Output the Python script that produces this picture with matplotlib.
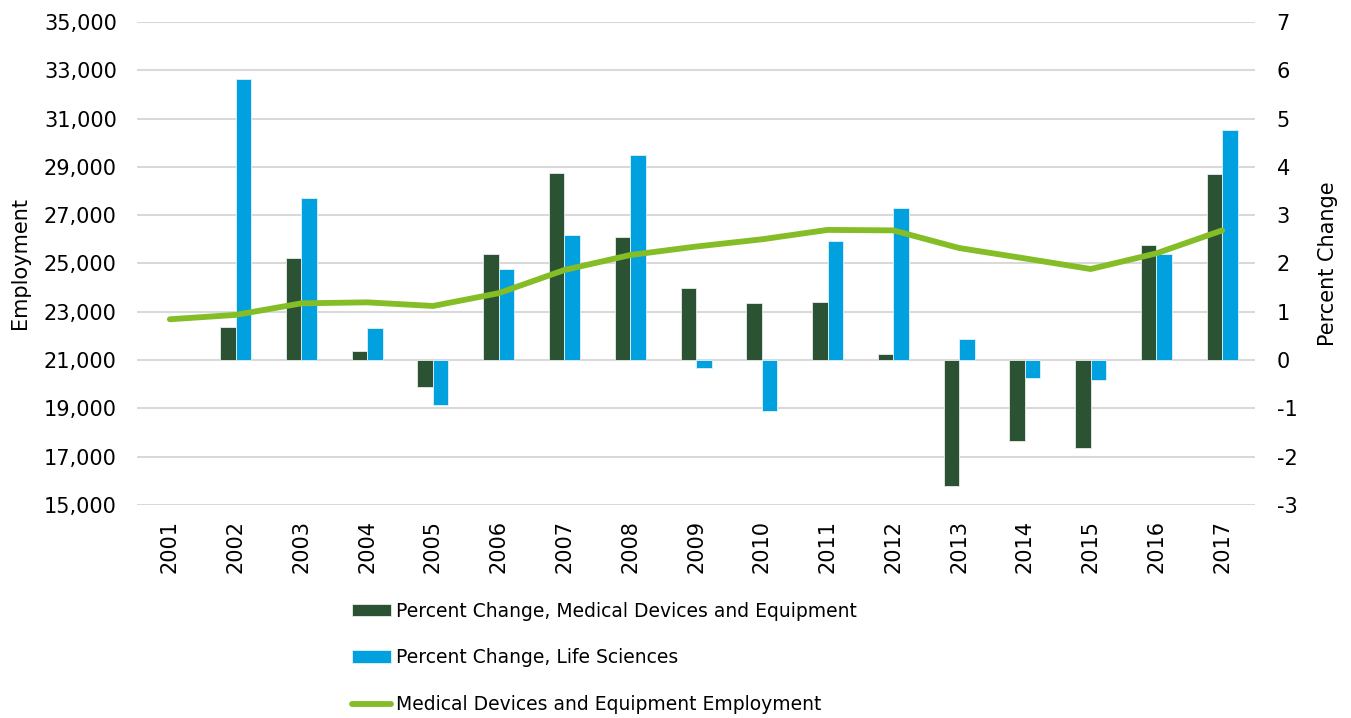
import matplotlib
matplotlib.use("Agg")
import matplotlib.pyplot as plt
from matplotlib.ticker import FuncFormatter
import numpy as np

plt.rcParams['font.family'] = ['DejaVu Sans']
plt.rcParams['axes.unicode_minus'] = False

years = ['2001', '2002', '2003', '2004', '2005', '2006', '2007', '2008', '2009',
         '2010', '2011', '2012', '2013', '2014', '2015', '2016', '2017']

# Percent change, medical devices and equipment (2001 has no value)
pct_med = [np.nan, 0.69, 2.11, 0.19, -0.56, 2.19, 3.88, 2.54, 1.50,
           1.19, 1.21, 0.12, -2.60, -1.68, -1.83, 2.38, 3.85]
# Percent change, life sciences
pct_life = [np.nan, 5.82, 3.35, 0.66, -0.93, 1.88, 2.59, 4.24, -0.17,
            -1.05, 2.46, 3.15, 0.43, -0.37, -0.41, 2.19, 4.76]
# Medical devices and equipment employment
employment = [22690, 22870, 23350, 23390, 23240, 23770, 24730, 25350, 25700,
              26000, 26390, 26370, 25640, 25210, 24770, 25420, 26370]

c_dark = '#2c5234'
c_blue = '#00a1de'
c_line = '#84bd25'

fig = plt.figure(figsize=(13.51, 7.18), dpi=100)
ax = fig.add_axes([0.1014, 0.2967, 0.8276, 0.6727])
ax2 = ax.twinx()

x = np.arange(len(years))
w = 0.236

# Bars on the right axis, drawn below the line
b1 = ax2.bar(x - w / 2, pct_med, w, color=c_dark, edgecolor='#e8ece8', linewidth=0.6,
             label='Percent Change, Medical Devices and Equipment')
b2 = ax2.bar(x + w / 2, pct_life, w, color=c_blue, edgecolor='#dff2fb', linewidth=0.6,
             label='Percent Change, Life Sciences')
ax2.set_ylim(-3, 7)
ax2.set_yticks(range(-3, 8))
ax2.grid(axis='y', color='#d9d9d9', linewidth=1.5)
ax2.set_axisbelow(True)
ax2.set_ylabel('Percent Change', fontsize=15, labelpad=15)

ln, = ax.plot(x, employment, color=c_line, linewidth=4.2, solid_capstyle='round',
              label='Medical Devices and Equipment Employment')
ax.set_ylim(15000, 35000)
ax.set_yticks(range(15000, 35001, 2000))
ax.yaxis.set_major_formatter(FuncFormatter(lambda v, p: f'{int(v):,}'))
ax.set_ylabel('Employment', fontsize=15, labelpad=10)
ax.set_xlim(-0.5, len(years) - 0.5)
ax.set_xticks(x)
ax.set_xticklabels(years, rotation=90)

ax.set_zorder(2)
ax2.set_zorder(1)
ax.patch.set_visible(False)

for a in (ax, ax2):
    for s in a.spines.values():
        s.set_visible(False)
    a.tick_params(length=0, labelsize=15)
ax.tick_params(axis='y', pad=14.5)
ax2.tick_params(axis='y', pad=15.5)
ax.tick_params(axis='x', pad=11)

fig.legend(handles=[b1, b2, ln], loc='upper left', bbox_to_anchor=(0.2605, 0.162),
           frameon=False, fontsize=13.5, handlelength=2.1, handleheight=0.67,
           handletextpad=0.27, labelspacing=1.48, borderpad=0, borderaxespad=0)

fig.savefig('out.png', dpi=100, facecolor='white')
